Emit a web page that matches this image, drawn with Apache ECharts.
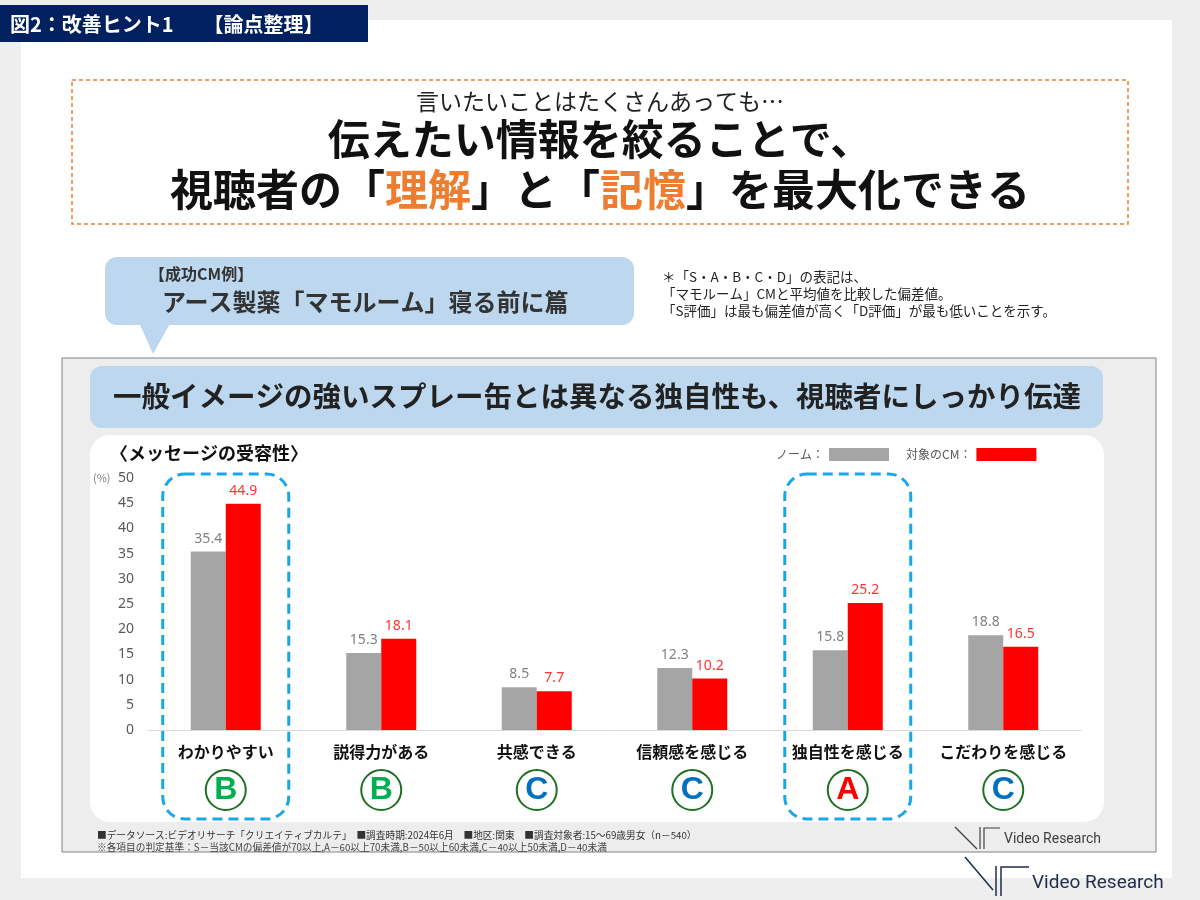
<!DOCTYPE html>
<html>
<head>
<meta charset="utf-8">
<title>メッセージの受容性</title>
<script src="https://cdn.jsdelivr.net/npm/echarts@6/dist/echarts.min.js"></script>
<style>
html,body{margin:0;padding:0;background:#eeeeee;}
#main{width:1200px;height:900px;}
</style>
</head>
<body>
<div id="main"></div>
<script>
/* データ */
var categories = ['わかりやすい','説得力がある','共感できる','信頼感を感じる','独自性を感じる','こだわりを感じる'];
var normValues = [35.4, 15.3, 8.5, 12.3, 15.8, 18.8];   //ノーム
var cmValues   = [44.9, 18.1, 7.7, 10.2, 25.2, 16.5];   //対象のCM
var grades     = ['B','B','C','C','A','C'];              //判定
var highlightIdx = [0, 4];                               //点線で囲む項目

var JP = '"Noto Sans CJK JP", "Noto Sans", sans-serif';
var gradeColor = {A:'#ff0000', B:'#00b050', C:'#0070c0'};

function gradeStyle(c){
    return {
        color:c, fontSize:32, fontWeight:'bold', fontFamily:'"Liberation Sans", Arial, sans-serif',
        width:40, height:40, lineHeight:42, align:'center',
        borderColor:'#1f6f24', borderWidth:2, borderRadius:22
    };
}

/* 背景・テキスト類 */
var g = [
    {type:'rect', z:-20, shape:{x:21,y:20,width:1151,height:858}, style:{fill:'#ffffff'}},
    {type:'rect', z:-19, shape:{x:0,y:5,width:368,height:37}, style:{fill:'#002060'}},
    {type:'text', z:-18, x:10, y:24, style:{text:'図2：改善ヒント1　　【論点整理】', fill:'#fff', font:'bold 20px '+JP, verticalAlign:'middle'}},

    {type:'rect', z:-18, shape:{x:72,y:80,width:1056,height:144}, style:{fill:'none', stroke:'#ED7D31', lineWidth:1.5, lineDash:[4,3]}},
    {type:'text', z:-17, x:600, y:101, style:{text:'言いたいことはたくさんあっても…', fill:'#222', font:'23px '+JP, align:'center', verticalAlign:'middle'}},
    {type:'text', z:-17, x:600, y:139, style:{text:'伝えたい情報を絞ることで、', fill:'#111', font:'bold 42px '+JP, align:'center', verticalAlign:'middle'}},
    {type:'text', z:-17, x:600, y:190, style:{
        text:'{b|視聴者の「}{o|理解}{b|」と「}{o|記憶}{b|」を最大化できる}', align:'center', verticalAlign:'middle',
        rich:{b:{fill:'#111', font:'bold 43px '+JP}, o:{fill:'#ED7D31', font:'bold 43px '+JP}}
    }},

    /* 吹き出し */
    {type:'polygon', z:-18, shape:{points:[[138,320],[172,320],[153,354]]}, style:{fill:'#bdd7ee'}},
    {type:'rect', z:-18, shape:{x:105,y:257,width:529,height:68,r:12}, style:{fill:'#bdd7ee'}},
    {type:'text', z:-17, x:149, y:274, style:{text:'【成功CM例】', fill:'#333', font:'bold 16px '+JP, verticalAlign:'middle'}},
    {type:'text', z:-17, x:162, y:302, style:{text:'アース製薬「マモルーム」寝る前に篇', fill:'#333', font:'bold 24px '+JP, verticalAlign:'middle'}},

    {type:'text', z:-17, x:662, y:268, style:{text:'＊「S・A・B・C・D」の表記は、\n「マモルーム」CMと平均値を比較した偏差値。\n「S評価」は最も偏差値が高く「D評価」が最も低いことを示す。', fill:'#222', font:'13.5px '+JP, lineHeight:17}},

    /* チャートパネル */
    {type:'rect', z:-16, shape:{x:62,y:358,width:1094,height:494}, style:{fill:'#ededed', stroke:'#808080', lineWidth:1}},
    {type:'rect', z:-15, shape:{x:90,y:366,width:1013,height:62,r:12}, style:{fill:'#bdd7ee'}},
    {type:'text', z:-14, x:597, y:396, style:{text:'一般イメージの強いスプレー缶とは異なる独自性も、視聴者にしっかり伝達', fill:'#222', font:'bold 28.5px '+JP, align:'center', verticalAlign:'middle'}},
    {type:'rect', z:-15, shape:{x:90,y:435,width:1014,height:387,r:20}, style:{fill:'#ffffff'}},
    {type:'text', z:-14, x:110, y:453, style:{text:'〈メッセージの受容性〉', fill:'#111', font:'bold 18px '+JP, verticalAlign:'middle'}},
    {type:'text', z:-14, x:93, y:478, style:{text:'(%)', fill:'#7f7f7f', font:'11px '+JP, verticalAlign:'middle'}},

    /* 出典 */
    {type:'text', z:-14, x:97, y:835, style:{text:'■データソース:ビデオリサーチ「クリエイティブカルテ」　■調査時期:2024年6月　■地区:関東　■調査対象者:15～69歳男女（n－540）', fill:'#333', font:'9.7px '+JP, verticalAlign:'middle'}},
    {type:'text', z:-14, x:97, y:847, style:{text:'※各項目の判定基準：S－当該CMの偏差値が70以上,A－60以上70未満,B－50以上60未満,C－40以上50未満,D－40未満', fill:'#444', font:'9.7px '+JP, verticalAlign:'middle'}},

    /* ロゴ（パネル内） */
    {type:'polyline', z:-14, shape:{points:[[955,827],[977,849]]}, style:{stroke:'#404040', lineWidth:1.2}},
    {type:'polyline', z:-14, shape:{points:[[980,827],[980,849]]}, style:{stroke:'#404040', lineWidth:1.2}},
    {type:'polyline', z:-14, shape:{points:[[984,849],[984,828],[1000,828]]}, style:{stroke:'#404040', lineWidth:1.2}},
    {type:'text', z:-14, x:1004, y:839, style:{text:'Video Research', fill:'#404040', font:'14px Roboto, sans-serif', verticalAlign:'middle'}},

    /* ロゴ（右下） */
    {type:'polyline', z:-14, shape:{points:[[965,857],[993,890]]}, style:{stroke:'#1f2d4d', lineWidth:1.5}},
    {type:'polyline', z:-14, shape:{points:[[996,866],[996,896]]}, style:{stroke:'#1f2d4d', lineWidth:1.5}},
    {type:'polyline', z:-14, shape:{points:[[1001,896],[1001,867],[1029,867]]}, style:{stroke:'#1f2d4d', lineWidth:1.5}},
    {type:'text', z:-14, x:1032, y:883, style:{text:'Video Research', fill:'#1f2d4d', font:'19px Roboto, sans-serif', verticalAlign:'middle'}}
];

var rich = {
    n:{fontSize:16, fontWeight:'bold', color:'#111', fontFamily:JP, lineHeight:22},
    s:{fontSize:2, lineHeight:6}
};
for(var k in gradeColor){ rich[k] = gradeStyle(gradeColor[k]); }

var chart = echarts.init(document.getElementById('main'));
var option = {
    backgroundColor:'transparent',
    animation:false,
    textStyle:{fontFamily:JP},
    graphic:g,
    legend:{
        left:771, top:443, align:'right', itemWidth:60, itemHeight:13, itemGap:17,
        icon:'rect', textStyle:{color:'#595959', fontSize:12},
        formatter:function(n){return n+'：';},
        data:['ノーム','対象のCM']
    },
    grid:{left:148, right:119, top:478, bottom:170},
    xAxis:{
        type:'category', data:categories,
        axisTick:{show:false},
        axisLine:{lineStyle:{color:'#d9d9d9'}},
        axisLabel:{
            interval:0, margin:11, rich:rich,
            formatter:function(v,i){ return '{n|'+v+'}\n{s| }\n{'+grades[i]+'|'+grades[i]+'}'; }
        }
    },
    yAxis:{
        type:'value', min:0, max:50, interval:5,
        axisLine:{show:false}, axisTick:{show:false}, splitLine:{show:false},
        axisLabel:{color:'#595959', fontSize:14, margin:14, fontFamily:'"Noto Sans", sans-serif'}
    },
    series:[
        {
            name:'ノーム', type:'bar', data:normValues, barWidth:35, barGap:'0%',
            itemStyle:{color:'#a5a5a5'},
            label:{show:true, position:'top', distance:6, color:'#808080', fontSize:14, fontFamily:'"Noto Sans", sans-serif'}
        },
        {
            name:'対象のCM', type:'bar', data:cmValues, barWidth:35,
            itemStyle:{color:'#ff0000'},
            label:{show:true, position:'top', distance:6, color:'#ff3333', fontSize:14, fontFamily:'"Noto Sans", sans-serif'}
        }
    ]
};
chart.setOption(option);

/* 点線の囲み：カテゴリ位置から算出 */
for(var i=0;i<highlightIdx.length;i++){
    var cx = chart.convertToPixel({xAxisIndex:0}, categories[highlightIdx[i]]);
    g.push({
        type:'rect', id:'hl'+i, z:10,
        shape:{x:cx-63, y:474, width:126, height:345, r:22},
        style:{fill:'none', stroke:'#1aa7e8', lineWidth:3, lineDash:[10,6]}
    });
}
chart.setOption({graphic:g});
</script>
</body>
</html>
